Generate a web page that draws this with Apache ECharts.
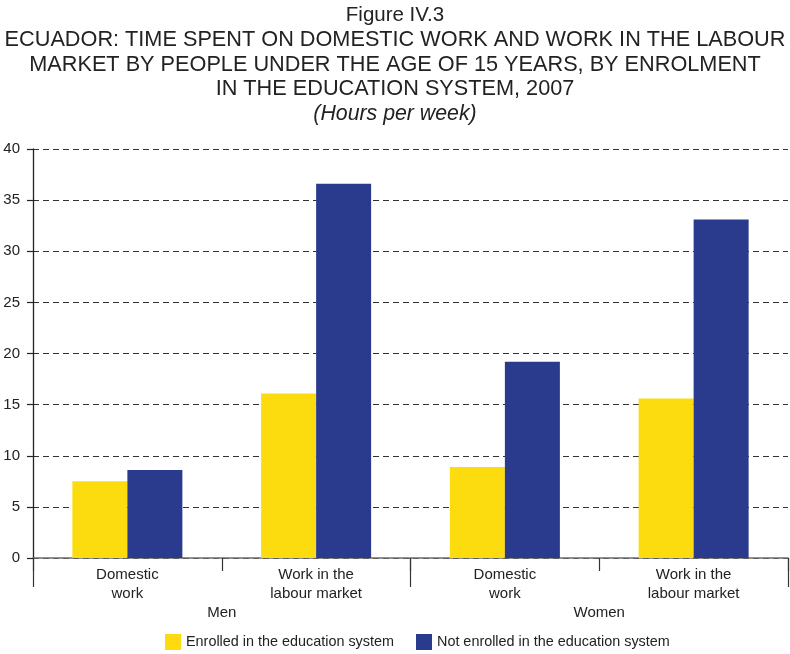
<!DOCTYPE html>
<html>
<head>
<meta charset="utf-8">
<script src="https://cdn.jsdelivr.net/npm/echarts@6/dist/echarts.min.js"></script>
<style>
  html, body { margin: 0; padding: 0; background: #fff; }
  #chart { width: 790px; height: 654px; }
</style>
</head>
<body>
<div id="chart"></div>
<script>
// Activity categories, grouped by sex
const categories = ['Domestic\nwork', 'Work in the\nlabour market', 'Domestic\nwork', 'Work in the\nlabour market'];
const groups = ['Men', 'Women'];

// Hours per week
const enrolled = [7.5, 16.1, 8.9, 15.6];
const notEnrolled = [8.6, 36.6, 19.2, 33.1];

const seriesNames = ['Enrolled in the education system', 'Not enrolled in the education system'];
const yTicks = { min: 0, max: 40, interval: 5 };

const figureLabel = 'Figure IV.3';
const headingLines = [
  'ECUADOR: TIME SPENT ON DOMESTIC WORK AND WORK IN THE LABOUR',
  'MARKET BY PEOPLE UNDER THE AGE OF 15 YEARS, BY ENROLMENT',
  'IN THE EDUCATION SYSTEM, 2007'
];
const unitLine = '(Hours per week)';

const FONT = "'Liberation Sans', Arial, Helvetica, sans-serif";
const TEXT = '#222';

const titleStyle = (size, extra) => Object.assign(
  { fontFamily: FONT, fontSize: size, fontWeight: 'normal', color: TEXT, lineHeight: 22 }, extra || {});

const titles = [{ text: figureLabel, left: 'center', top: 4, padding: 0, textStyle: titleStyle(20.5) }];
const headingTops = [29.5, 54, 78.5];
headingLines.forEach((t, i) => titles.push({
  text: t, left: 'center', top: headingTops[i], padding: 0, textStyle: titleStyle(21.7)
}));
titles.push({
  text: unitLine, left: 'center', top: 103.5, padding: 0,
  textStyle: titleStyle(21.3, { fontStyle: 'italic' })
});

const chart = echarts.init(document.getElementById('chart'), null, { renderer: 'canvas' });

chart.setOption({
  animation: false,
  backgroundColor: '#fff',
  title: titles,
  legend: {
    data: seriesNames,
    left: 165, top: 634,
    padding: 0,
    itemWidth: 16, itemHeight: 16, itemGap: 22,
    icon: 'rect',
    textStyle: { fontFamily: FONT, fontSize: 14.4, color: TEXT },
    selectedMode: false
  },
  grid: { left: 33, right: 2, top: 149, bottom: 96, containLabel: false },
  xAxis: [
    {
      type: 'category',
      data: categories,
      position: 'bottom',
      axisLine: { show: true, lineStyle: { color: '#6e6e6e', width: 1.5 } },
      axisTick: { show: true, alignWithLabel: false, length: 13, lineStyle: { color: '#333', width: 1.2 } },
      axisLabel: { interval: 0, margin: 8, fontFamily: FONT, fontSize: 15, color: TEXT, lineHeight: 18.5 },
      splitLine: { show: false }
    },
    {
      type: 'category',
      data: groups,
      position: 'bottom',
      offset: 0,
      axisLine: { show: false },
      axisTick: { show: true, length: 29, lineStyle: { color: '#333', width: 1.2 } },
      axisLabel: { interval: 0, margin: 47, fontFamily: FONT, fontSize: 15, color: TEXT },
      splitLine: { show: false }
    }
  ],
  yAxis: {
    type: 'value',
    min: yTicks.min, max: yTicks.max, interval: yTicks.interval,
    axisLine: { show: true, lineStyle: { color: '#222', width: 1.3 } },
    axisTick: { show: true, inside: false, length: 6, lineStyle: { color: '#222', width: 1.2 } },
    axisLabel: { margin: 13, fontFamily: FONT, fontSize: 15, color: TEXT },
    splitLine: { show: true, lineStyle: { color: '#333', width: 1, type: [6, 4] } }
  },
  series: [
    {
      name: seriesNames[0],
      type: 'bar',
      xAxisIndex: 0,
      data: enrolled,
      barWidth: 55,
      barGap: '0%',
      itemStyle: { color: '#FCDC0F' }
    },
    {
      name: seriesNames[1],
      type: 'bar',
      xAxisIndex: 0,
      data: notEnrolled,
      barWidth: 55,
      barGap: '0%',
      itemStyle: { color: '#2A3A8C' }
    }
  ]
});
</script>
</body>
</html>
